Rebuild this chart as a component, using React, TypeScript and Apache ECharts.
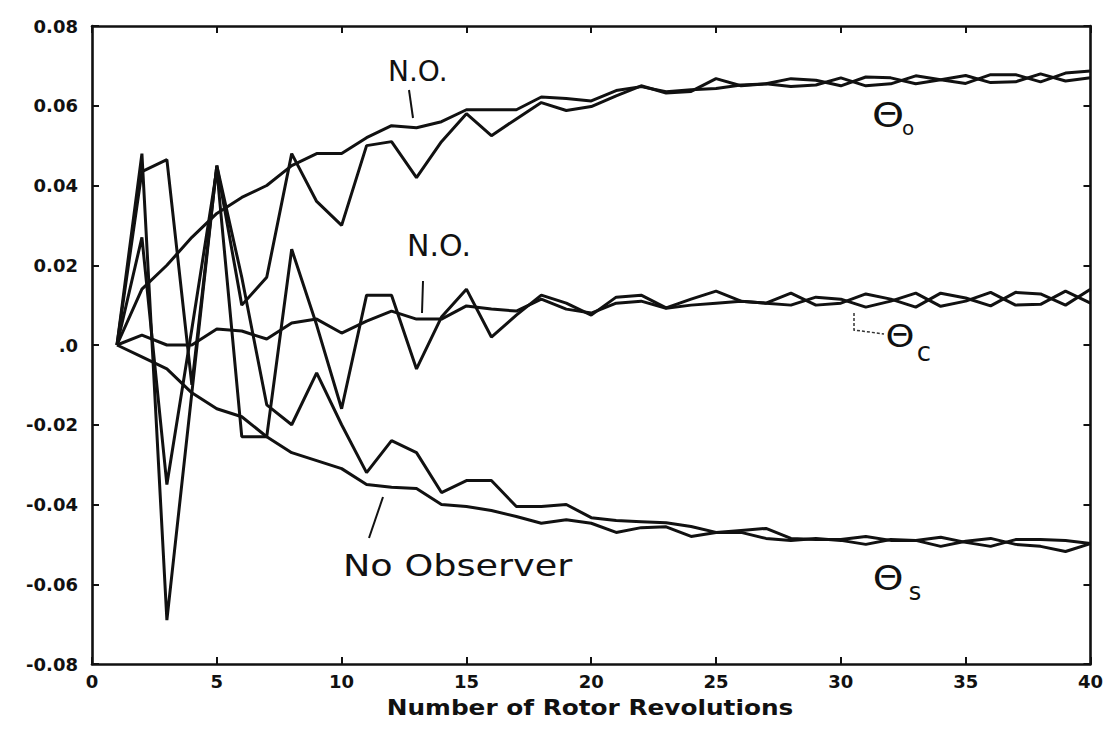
import React, { useEffect, useRef } from "react";
import * as echarts from "echarts";

// Rotor revolution index (x)
const revolutions = [
  1, 2, 3, 4, 5, 6, 7, 8, 9, 10, 11, 12, 13, 14, 15, 16, 17, 18, 19, 20,
  21, 22, 23, 24, 25, 26, 27, 28, 29, 30, 31, 32, 33, 34, 35, 36, 37, 38, 39, 40,
];

// Theta_o : no observer (N.O.) and with observer
const thetaO_NO = [
  0, 0.014, 0.02, 0.027, 0.033, 0.037, 0.04, 0.045, 0.048, 0.048,
  0.052, 0.055, 0.0545, 0.056, 0.059, 0.059, 0.059, 0.0622, 0.0618, 0.0612,
  0.0638, 0.0648, 0.0635, 0.064, 0.0643, 0.0652, 0.0655, 0.0668, 0.0664, 0.065,
  0.0672, 0.067, 0.0655, 0.0665, 0.0676, 0.0658, 0.066, 0.068, 0.0662, 0.067,
];
const thetaO_obs = [
  0, 0.0435, 0.0465, -0.01, 0.045, 0.01, 0.017, 0.048, 0.036, 0.03,
  0.05, 0.051, 0.042, 0.051, 0.058, 0.0525, 0.0567, 0.0608, 0.0588, 0.0598,
  0.0625, 0.065, 0.0632, 0.0636, 0.0668, 0.065, 0.0655, 0.0648, 0.0652, 0.067,
  0.065, 0.0655, 0.0675, 0.0665, 0.0656, 0.0678, 0.0678, 0.066, 0.0682, 0.0687,
];

// Theta_c
const thetaC_NO = [
  0, 0.0025, 0, 0, 0.004, 0.0035, 0.0015, 0.0055, 0.0065, 0.003,
  0.006, 0.0085, 0.0065, 0.0065, 0.0098, 0.009, 0.0085, 0.0115, 0.009, 0.008,
  0.0105, 0.011, 0.0092, 0.01, 0.0105, 0.011, 0.0105, 0.01, 0.012, 0.0115,
  0.0095, 0.011, 0.013, 0.0097, 0.011, 0.0132, 0.01, 0.0102, 0.0135, 0.0105,
];
const thetaC_obs = [
  0, 0.027, -0.035, 0.004, 0.044, -0.023, -0.023, 0.024, 0.005, -0.016,
  0.0125, 0.0125, -0.006, 0.007, 0.014, 0.002, 0.0075, 0.0125, 0.0105, 0.0075,
  0.012, 0.0125, 0.0093, 0.0115, 0.0135, 0.011, 0.0105, 0.013, 0.01, 0.0105,
  0.0128, 0.0115, 0.0095, 0.013, 0.0118, 0.0098, 0.0132, 0.0128, 0.01, 0.014,
];

// Theta_s
const thetaS_NO = [
  0, -0.003, -0.006, -0.012, -0.016, -0.018, -0.023, -0.027, -0.029, -0.031,
  -0.035, -0.0357, -0.036, -0.04, -0.0405, -0.0415, -0.043, -0.0447, -0.0438, -0.0447,
  -0.047, -0.0458, -0.0456, -0.048, -0.047, -0.047, -0.0485, -0.049, -0.0485, -0.049,
  -0.05, -0.0488, -0.049, -0.0505, -0.0492, -0.0485, -0.05, -0.0505, -0.0518, -0.0498,
];
const thetaS_obs = [
  0, 0.048, -0.069, -0.012, 0.045, 0.017, -0.015, -0.02, -0.007, -0.02,
  -0.032, -0.024, -0.027, -0.037, -0.034, -0.034, -0.0405, -0.0405, -0.04, -0.0433,
  -0.044, -0.0443, -0.0446, -0.0455, -0.047, -0.0465, -0.046, -0.0485, -0.0488, -0.0488,
  -0.048, -0.049, -0.049, -0.0482, -0.0495, -0.0505, -0.0488, -0.0488, -0.049, -0.0498,
];

const xTicks = { min: 0, max: 40, interval: 5 };
const yTicks = { min: -0.08, max: 0.08, interval: 0.02 };
const xTitle = "Number of Rotor Revolutions";

const seriesList: { name: string; values: number[] }[] = [
  { name: "Θo N.O.", values: thetaO_NO },
  { name: "Θo", values: thetaO_obs },
  { name: "Θc N.O.", values: thetaC_NO },
  { name: "Θc", values: thetaC_obs },
  { name: "Θs N.O.", values: thetaS_NO },
  { name: "Θs", values: thetaS_obs },
];

const INK = "#111";
const FONT = "DejaVu Sans";

export default function App() {
  const ref = useRef<HTMLDivElement>(null);

  useEffect(() => {
    if (!ref.current) return;
    const chart = echarts.init(ref.current, undefined, { renderer: "svg" });

    const axisLine = { show: true, onZero: false, lineStyle: { color: INK, width: 2.6 } };
    const tick = { show: true, inside: true, length: 7, lineStyle: { color: INK, width: 2 } };
    const labelStyle = { color: INK, fontSize: 18, fontWeight: "bold" as const, fontFamily: FONT };

    const txt = (
      text: string,
      x: number,
      y: number,
      size: number,
      opts: any = {}
    ) => ({
      type: "text",
      x,
      y,
      scaleX: opts.scaleX ?? 1,
      z: 100,
      style: {
        text,
        x: 0,
        y: 0,
        fill: INK,
        font: `${opts.weight ?? "normal"} ${size}px "${FONT}"`,
        textAlign: opts.align ?? "left",
        align: opts.align ?? "left",
        textVerticalAlign: "middle",
        verticalAlign: "middle",
      },
    });
    const seg = (x1: number, y1: number, x2: number, y2: number, w = 2) => ({
      type: "line",
      z: 100,
      shape: { x1, y1, x2, y2 },
      style: { stroke: INK, lineWidth: w },
    });

    chart.setOption({
      animation: false,
      backgroundColor: "#fff",
      textStyle: { fontFamily: FONT },
      grid: { left: 92, top: 26, right: 14, bottom: 75, containLabel: false },
      xAxis: [
        {
          type: "value",
          position: "bottom",
          ...xTicks,
          axisLine,
          axisTick: tick,
          splitLine: { show: false },
          axisLabel: {
            ...labelStyle,
            margin: 8,
            formatter: (v: number) => String(Math.round(v)),
          },
        },
        {
          type: "value",
          position: "top",
          ...xTicks,
          axisLine,
          axisTick: tick,
          splitLine: { show: false },
          axisLabel: { show: false },
        },
      ],
      yAxis: [
        {
          type: "value",
          position: "left",
          ...yTicks,
          axisLine,
          axisTick: tick,
          splitLine: { show: false },
          axisLabel: {
            ...labelStyle,
            margin: 14,
            formatter: (v: number) => (Math.abs(v) < 1e-9 ? ".0" : v.toFixed(2)),
          },
        },
        {
          type: "value",
          position: "right",
          ...yTicks,
          axisLine,
          axisTick: tick,
          splitLine: { show: false },
          axisLabel: { show: false },
        },
      ],
      series: seriesList.map((s) => ({
        name: s.name,
        type: "line",
        xAxisIndex: 0,
        yAxisIndex: 0,
        symbol: "none",
        showSymbol: false,
        silent: true,
        lineStyle: { color: INK, width: 3 },
        data: s.values.map((v, i) => [revolutions[i], v]),
      })),
      graphic: [
        // x-axis title
        txt(xTitle, 590, 708, 21, { weight: "bold", align: "center", scaleX: 1.18 }),
        // N.O. (theta_o)
        txt("N.O.", 388, 71, 28),
        seg(409, 90, 413, 118),
        // N.O. (theta_c)
        txt("N.O.", 407, 245, 30),
        seg(423, 281, 422, 313),
        // No Observer (theta_s)
        seg(383, 497, 369, 538),
        txt("No Observer", 343, 566, 30, { scaleX: 1.22 }),
        // Theta labels
        txt("Θ", 888, 115, 34, { align: "center", scaleX: 1.2 }),
        txt("o", 908, 128, 20, { align: "center" }),
        txt("Θ", 900, 336, 32, { align: "center", scaleX: 1.15 }),
        txt("c", 924, 352, 26, { align: "center" }),
        {
          type: "polyline",
          z: 100,
          shape: { points: [[854, 313], [854, 330], [884, 334]] },
          style: { stroke: "#333", lineWidth: 1.5, lineDash: [3, 2], fill: null },
        },
        txt("Θ", 888, 578, 34, { align: "center", scaleX: 1.15 }),
        txt("s", 915, 592, 24, { align: "center" }),
      ],
    });

    return () => chart.dispose();
  }, []);

  return (
    <div
      ref={ref}
      style={{ position: "fixed", left: 0, top: 0, width: 1106, height: 739, background: "#fff" }}
    />
  );
}
